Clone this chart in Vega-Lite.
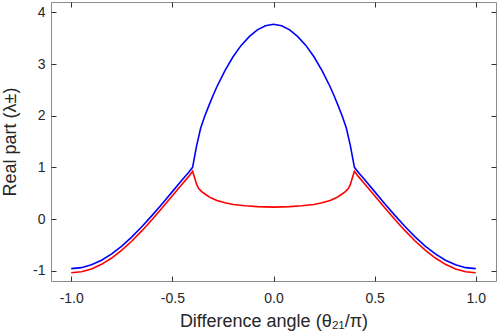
{
  "$schema": "https://vega.github.io/schema/vega-lite/v6.json",
  "width": 445,
  "height": 279,
  "autosize": {"type": "none"},
  "padding": {"left": 51, "top": 2, "right": 2, "bottom": 55},
  "background": "white",
  "config": {
    "font": "Liberation Sans",
    "view": {"stroke": "#8c8c8c", "strokeWidth": 1},
    "axis": {
      "domain": false,
      "grid": false,
      "tickSize": -5,
      "tickColor": "#333333",
      "tickWidth": 1,
      "labelColor": "#262626",
      "labelFontSize": 14,
      "labelFont": "Liberation Sans",
      "titleColor": "#262626",
      "titleFontSize": 18,
      "titleFontWeight": "normal",
      "titleFont": "Liberation Sans",
      "labelExpr": "replace(datum.label, '\u2212', '-')"
    }
  },
  "data": {
    "values": [
      {"x": -1.00, "y": -0.96, "s": "blue"},
      {"x": -0.95, "y": -0.942, "s": "blue"},
      {"x": -0.90, "y": -0.887, "s": "blue"},
      {"x": -0.85, "y": -0.797, "s": "blue"},
      {"x": -0.80, "y": -0.675, "s": "blue"},
      {"x": -0.75, "y": -0.523, "s": "blue"},
      {"x": -0.70, "y": -0.346, "s": "blue"},
      {"x": -0.65, "y": -0.146, "s": "blue"},
      {"x": -0.60, "y": 0.07, "s": "blue"},
      {"x": -0.55, "y": 0.297, "s": "blue"},
      {"x": -0.50, "y": 0.53, "s": "blue"},
      {"x": -0.45, "y": 0.763, "s": "blue"},
      {"x": -0.42, "y": 0.90, "s": "blue"},
      {"x": -0.40, "y": 1.00, "s": "blue"},
      {"x": -0.38, "y": 1.42, "s": "blue"},
      {"x": -0.36, "y": 1.76, "s": "blue"},
      {"x": -0.34, "y": 1.99, "s": "blue"},
      {"x": -0.32, "y": 2.19, "s": "blue"},
      {"x": -0.30, "y": 2.38, "s": "blue"},
      {"x": -0.28, "y": 2.56, "s": "blue"},
      {"x": -0.24, "y": 2.87, "s": "blue"},
      {"x": -0.20, "y": 3.14, "s": "blue"},
      {"x": -0.16, "y": 3.36, "s": "blue"},
      {"x": -0.12, "y": 3.53, "s": "blue"},
      {"x": -0.08, "y": 3.66, "s": "blue"},
      {"x": -0.04, "y": 3.74, "s": "blue"},
      {"x": 0.00, "y": 3.77, "s": "blue"},
      {"x": 0.04, "y": 3.74, "s": "blue"},
      {"x": 0.08, "y": 3.66, "s": "blue"},
      {"x": 0.12, "y": 3.53, "s": "blue"},
      {"x": 0.16, "y": 3.36, "s": "blue"},
      {"x": 0.20, "y": 3.14, "s": "blue"},
      {"x": 0.24, "y": 2.87, "s": "blue"},
      {"x": 0.28, "y": 2.56, "s": "blue"},
      {"x": 0.30, "y": 2.38, "s": "blue"},
      {"x": 0.32, "y": 2.19, "s": "blue"},
      {"x": 0.34, "y": 1.99, "s": "blue"},
      {"x": 0.36, "y": 1.76, "s": "blue"},
      {"x": 0.38, "y": 1.42, "s": "blue"},
      {"x": 0.40, "y": 1.00, "s": "blue"},
      {"x": 0.42, "y": 0.90, "s": "blue"},
      {"x": 0.45, "y": 0.763, "s": "blue"},
      {"x": 0.50, "y": 0.53, "s": "blue"},
      {"x": 0.55, "y": 0.297, "s": "blue"},
      {"x": 0.60, "y": 0.07, "s": "blue"},
      {"x": 0.65, "y": -0.146, "s": "blue"},
      {"x": 0.70, "y": -0.346, "s": "blue"},
      {"x": 0.75, "y": -0.523, "s": "blue"},
      {"x": 0.80, "y": -0.675, "s": "blue"},
      {"x": 0.85, "y": -0.797, "s": "blue"},
      {"x": 0.90, "y": -0.887, "s": "blue"},
      {"x": 0.95, "y": -0.942, "s": "blue"},
      {"x": 1.00, "y": -0.96, "s": "blue"},
      {"x": -1.00, "y": -1.04, "s": "red"},
      {"x": -0.95, "y": -1.022, "s": "red"},
      {"x": -0.90, "y": -0.967, "s": "red"},
      {"x": -0.85, "y": -0.877, "s": "red"},
      {"x": -0.80, "y": -0.755, "s": "red"},
      {"x": -0.75, "y": -0.603, "s": "red"},
      {"x": -0.70, "y": -0.426, "s": "red"},
      {"x": -0.65, "y": -0.226, "s": "red"},
      {"x": -0.60, "y": -0.01, "s": "red"},
      {"x": -0.55, "y": 0.217, "s": "red"},
      {"x": -0.50, "y": 0.45, "s": "red"},
      {"x": -0.45, "y": 0.683, "s": "red"},
      {"x": -0.42, "y": 0.82, "s": "red"},
      {"x": -0.40, "y": 0.925, "s": "red"},
      {"x": -0.39, "y": 0.80, "s": "red"},
      {"x": -0.38, "y": 0.67, "s": "red"},
      {"x": -0.37, "y": 0.59, "s": "red"},
      {"x": -0.355, "y": 0.53, "s": "red"},
      {"x": -0.33, "y": 0.46, "s": "red"},
      {"x": -0.31, "y": 0.41, "s": "red"},
      {"x": -0.28, "y": 0.36, "s": "red"},
      {"x": -0.24, "y": 0.315, "s": "red"},
      {"x": -0.20, "y": 0.28, "s": "red"},
      {"x": -0.14, "y": 0.255, "s": "red"},
      {"x": -0.08, "y": 0.24, "s": "red"},
      {"x": 0.00, "y": 0.23, "s": "red"},
      {"x": 0.08, "y": 0.24, "s": "red"},
      {"x": 0.14, "y": 0.255, "s": "red"},
      {"x": 0.20, "y": 0.28, "s": "red"},
      {"x": 0.24, "y": 0.315, "s": "red"},
      {"x": 0.28, "y": 0.36, "s": "red"},
      {"x": 0.31, "y": 0.41, "s": "red"},
      {"x": 0.33, "y": 0.46, "s": "red"},
      {"x": 0.355, "y": 0.53, "s": "red"},
      {"x": 0.37, "y": 0.59, "s": "red"},
      {"x": 0.38, "y": 0.67, "s": "red"},
      {"x": 0.39, "y": 0.80, "s": "red"},
      {"x": 0.40, "y": 0.925, "s": "red"},
      {"x": 0.42, "y": 0.82, "s": "red"},
      {"x": 0.45, "y": 0.683, "s": "red"},
      {"x": 0.50, "y": 0.45, "s": "red"},
      {"x": 0.55, "y": 0.217, "s": "red"},
      {"x": 0.60, "y": -0.01, "s": "red"},
      {"x": 0.65, "y": -0.226, "s": "red"},
      {"x": 0.70, "y": -0.426, "s": "red"},
      {"x": 0.75, "y": -0.603, "s": "red"},
      {"x": 0.80, "y": -0.755, "s": "red"},
      {"x": 0.85, "y": -0.877, "s": "red"},
      {"x": 0.90, "y": -0.967, "s": "red"},
      {"x": 0.95, "y": -1.022, "s": "red"},
      {"x": 1.00, "y": -1.04, "s": "red"}
    ]
  },
  "layer": [
    {
      "mark": {"type": "line", "strokeWidth": 1.6},
      "encoding": {
        "x": {
          "field": "x", "type": "quantitative",
          "scale": {"domain": [-1.1, 1.1], "nice": false, "zero": false},
          "axis": {
            "orient": "bottom",
            "values": [-1, -0.5, 0, 0.5, 1],
            "format": ".1f",
            "labelPadding": 15.5,
            "titlePadding": 7,
            "title": "Difference angle (θ₂₁/π)"
          }
        },
        "y": {
          "field": "y", "type": "quantitative",
          "scale": {"domain": [-1.2, 4.2], "nice": false, "zero": false},
          "axis": {
            "orient": "left",
            "values": [-1, 0, 1, 2, 3, 4],
            "format": "d",
            "labelPadding": 11,
            "titlePadding": 13,
            "title": "Real part (λ±)"
          }
        },
        "color": {
          "field": "s", "type": "nominal",
          "scale": {"domain": ["blue", "red"], "range": ["#0000ff", "#ff0000"]},
          "legend": null
        }
      }
    },
    {
      "mark": {"type": "line", "strokeOpacity": 0},
      "encoding": {
        "x": {
          "field": "x", "type": "quantitative",
          "axis": {"orient": "top", "values": [-1, -0.5, 0, 0.5, 1], "labels": false, "title": null}
        },
        "y": {
          "field": "y", "type": "quantitative",
          "axis": {"orient": "right", "values": [-1, 0, 1, 2, 3, 4], "labels": false, "title": null}
        },
        "detail": {"field": "s", "type": "nominal"}
      }
    }
  ],
  "resolve": {"axis": {"x": "independent", "y": "independent"}}
}
